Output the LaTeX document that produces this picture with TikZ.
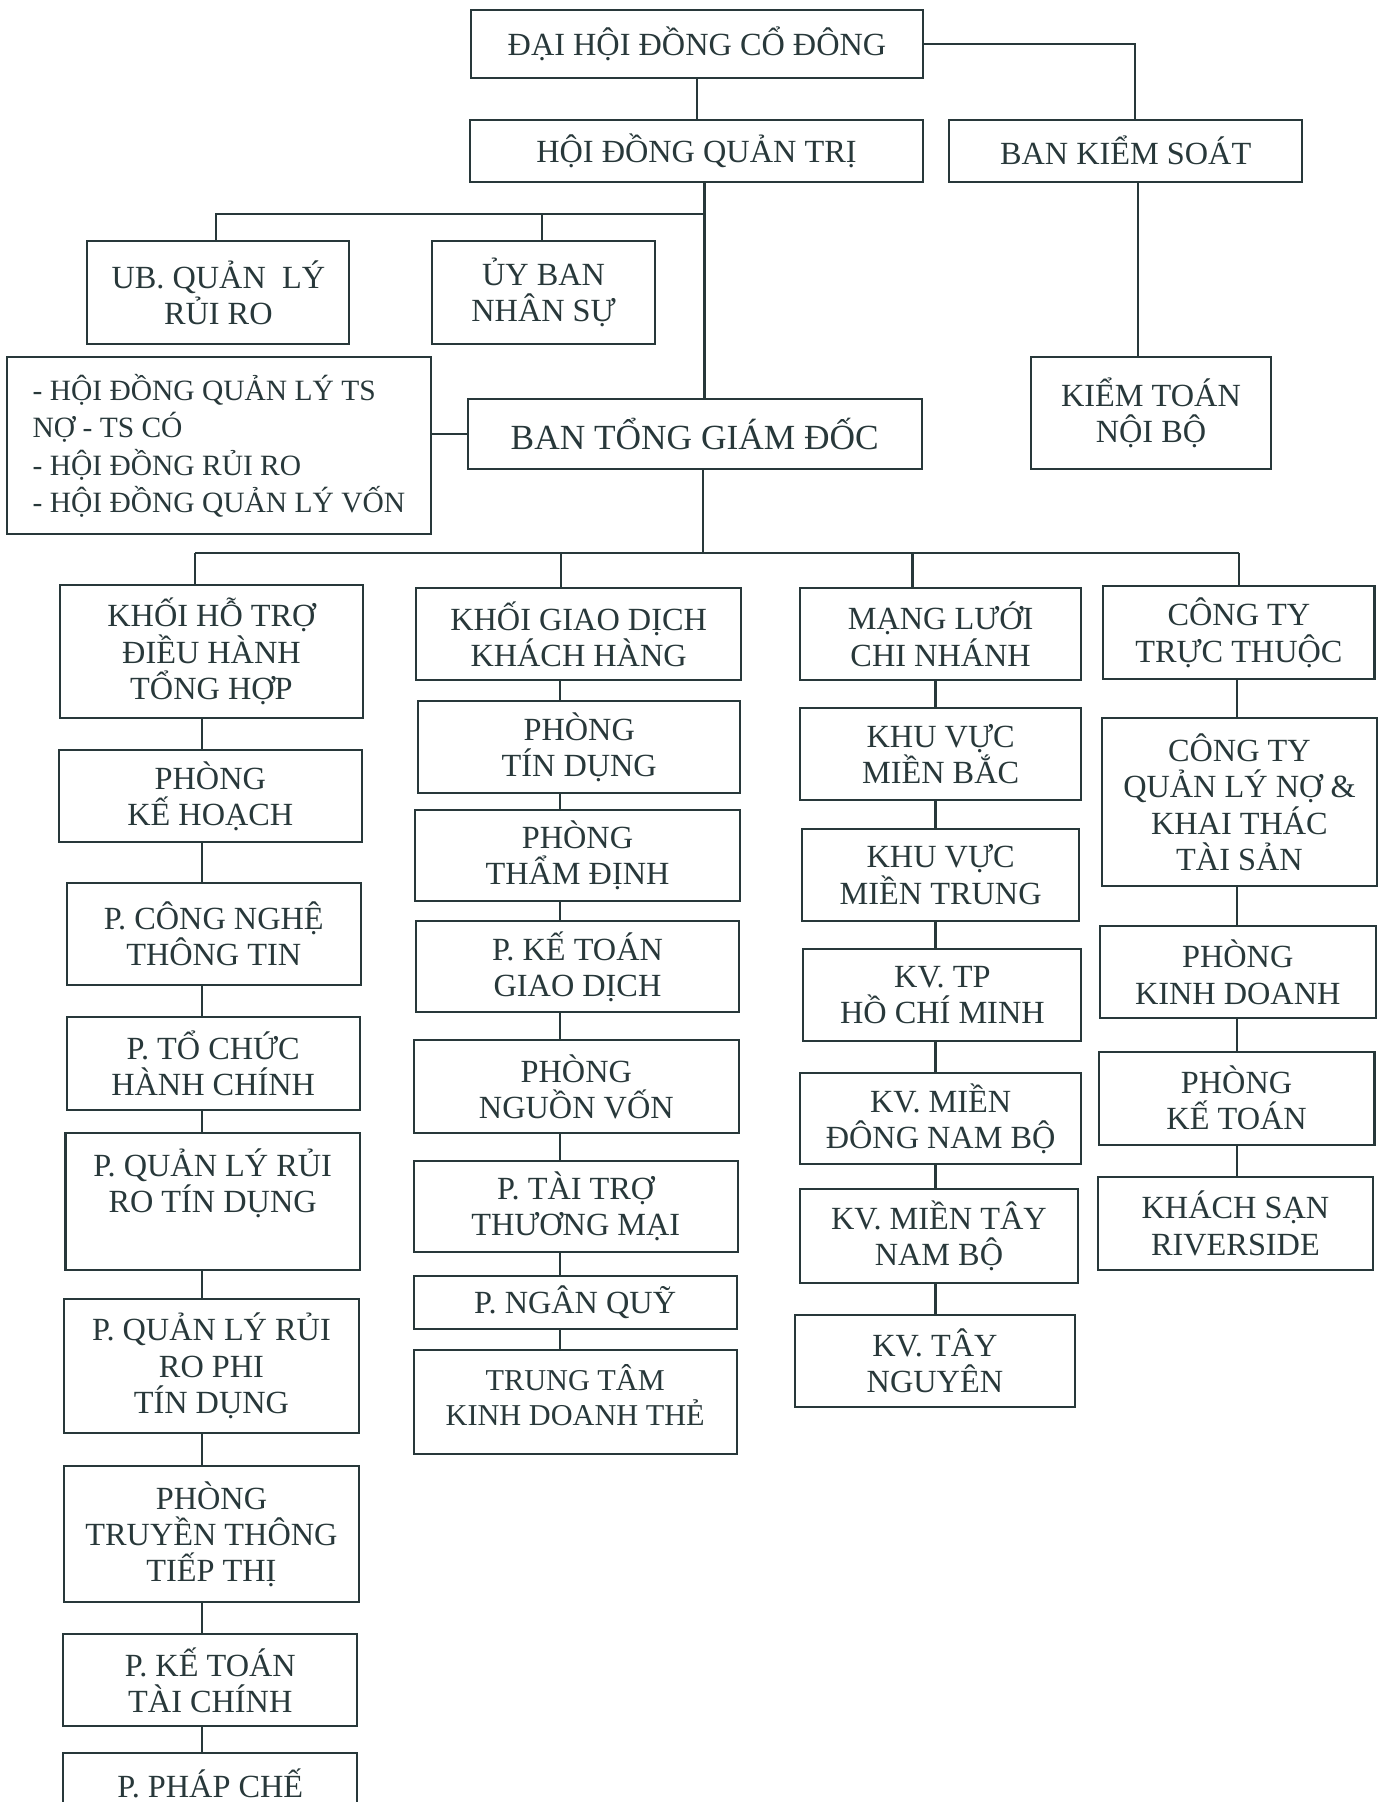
\documentclass[tikz,border=0pt]{standalone}
\usepackage{fontspec}
\setmainfont{Liberation Serif}
\definecolor{ink}{RGB}{40,56,58}
\begin{document}
\begin{tikzpicture}
[x=0.02cm, y=-0.02cm,
boxat/.style n args={4}{at={({(#1+#3)/2},{(#2+#4)/2})},
    minimum width={(#3-#1)*0.02cm}, minimum height={(#4-#2)*0.02cm}},
link/.style={draw=ink, line width=1pt}
]
\tikzset{every node/.style={shape=rectangle,draw=ink,line width=1pt,text=ink,
                            align=center,inner sep=0pt,
                            font=\fontsize{16}{18}\selectfont}}
\useasboundingbox (0,0) rectangle (1202,1568);
% top levels
\node[boxat={410}{9}{803}{68}] (dhdcd) {ĐẠI HỘI ĐỒNG CỔ ĐÔNG};
\node[boxat={409}{104}{803}{158}] (hdqt) {HỘI ĐỒNG QUẢN TRỊ};
\node[boxat={826}{104}{1133}{158}] (bks) {BAN KIỂM SOÁT};
\node[boxat={76}{210}{304}{299}] (ubql) {UB. QUẢN \ LÝ\\RỦI RO};
\node[boxat={376}{210}{570}{299}] (ubns) {ỦY BAN\\NHÂN SỰ};
\node[boxat={6}{311}{375}{465}, align=left, font=\fontsize{14.6}{18.6}\selectfont] (hdts)
    {- HỘI ĐỒNG QUẢN LÝ TS\\NỢ - TS CÓ\\- HỘI ĐỒNG RỦI RO\\- HỘI ĐỒNG QUẢN LÝ VỐN};
\node[boxat={407}{347}{802}{408}, font=\fontsize{17.5}{20}\selectfont] (btgd) {BAN TỔNG GIÁM ĐỐC};
\node[boxat={897}{311}{1106}{408}] (ktnb) {KIỂM TOÁN\\NỘI BỘ};
% khoi ho tro
\node[boxat={52}{509}{316}{625}] (k1) {KHỐI HỖ TRỢ\\ĐIỀU HÀNH\\TỔNG HỢP};
\node[boxat={51}{653}{315}{733}] (pkh) {PHÒNG\\KẾ HOẠCH};
\node[boxat={58}{768}{314}{857}] (pcntt) {P. CÔNG NGHỆ\\THÔNG TIN};
\node[boxat={58}{885}{313}{966}] (ptchc) {P. TỔ CHỨC\\HÀNH CHÍNH};
\node[boxat={57}{986}{313}{1105}] (pqlrtd) {P. QUẢN LÝ RỦI\\RO TÍN DỤNG\\[3pt]\mbox{}};
\node[boxat={56}{1130}{312}{1247}] (pqlrptd) {P. QUẢN LÝ RỦI\\RO PHI\\TÍN DỤNG};
\node[boxat={56}{1276}{312}{1394}] (pttt) {PHÒNG\\TRUYỀN THÔNG\\TIẾP THỊ};
\node[boxat={55}{1422}{311}{1502}] (pktc) {P. KẾ TOÁN\\TÀI CHÍNH};
\node[boxat={55}{1525}{311}{1578}] (ppc) {P. PHÁP CHẾ};
% khoi giao dich
\node[boxat={362}{512}{645}{592}] (k2) {KHỐI GIAO DỊCH\\KHÁCH HÀNG};
\node[boxat={364}{610}{644}{690}] (ptd) {PHÒNG\\TÍN DỤNG};
\node[boxat={361}{705}{644}{784}] (ptdinh) {PHÒNG\\THẨM ĐỊNH};
\node[boxat={362}{801}{643}{881}] (pktgd) {P. KẾ TOÁN\\GIAO DỊCH};
\node[boxat={360}{905}{643}{986}] (pnv) {PHÒNG\\NGUỒN VỐN};
\node[boxat={360}{1010}{642}{1089}] (pttm) {P. TÀI TRỢ\\THƯƠNG MẠI};
\node[boxat={360}{1110}{641}{1156}] (pnq) {P. NGÂN QUỸ};
\node[boxat={360}{1175}{641}{1265}, font=\fontsize{15}{17}\selectfont] (ttkdt)
    {TRUNG TÂM\\KINH DOANH THẺ\\[-10pt]\mbox{}};
% mang luoi
\node[boxat={696}{512}{941}{592}] (k3) {MẠNG LƯỚI\\CHI NHÁNH};
\node[boxat={696}{616}{941}{696}] (kvmb) {KHU VỰC\\MIỀN BẮC};
\node[boxat={698}{721}{939}{801}] (kvmt) {KHU VỰC\\MIỀN TRUNG};
\node[boxat={699}{826}{941}{906}] (kvhcm) {KV. TP\\HỒ CHÍ MINH};
\node[boxat={696}{934}{941}{1013}] (kvdnb) {KV. MIỀN\\ĐÔNG NAM BỘ};
\node[boxat={696}{1035}{938}{1116}] (kvtnb) {KV. MIỀN TÂY\\NAM BỘ};
\node[boxat={692}{1144}{935}{1224}] (kvtn) {KV. TÂY\\NGUYÊN};
% cong ty truc thuoc
\node[boxat={960}{510}{1196}{591}] (k4) {CÔNG TY\\TRỰC THUỘC};
\node[boxat={959}{625}{1198}{771}] (ctqln) {CÔNG TY\\QUẢN LÝ NỢ \&\\KHAI THÁC\\TÀI SẢN};
\node[boxat={957}{806}{1197}{886}] (pkd) {PHÒNG\\KINH DOANH};
\node[boxat={956}{915}{1196}{996}] (pkt) {PHÒNG\\KẾ TOÁN};
\node[boxat={955}{1024}{1195}{1105}] (ksr) {KHÁCH SẠN\\RIVERSIDE};
% connectors
\coordinate (hub) at (613,186);
\coordinate (bus) at (612,481);
\draw[link] (dhdcd.south) -- (dhdcd.south |- hdqt.north);
\draw[link] (dhdcd.east) -| (988,0 |- bks.north);
\draw[link] (hdqt.south -| hub) -- (btgd.north -| hub);
\draw[link] (hub) -| (188,0 |- ubql.north);
\draw[link] (472,0 |- hub) -- (472,0 |- ubns.north);
\draw[link] (hdts.east |- btgd.west) -- (btgd.west);
\draw[link] (990,0 |- bks.south) -- (990,0 |- ktnb.north);
\draw[link] (btgd.south -| bus) -- (bus);
\draw[link] (170,0 |- bus) -- (1078,0 |- bus);
\foreach \n/\x in {k1/170,k2/488,k3/794,k4/1078}
    \draw[link] (\x,0 |- bus) -- (\x,0 |- \n.north);
\foreach \a/\b in {k1/pkh,pkh/pcntt,pcntt/ptchc,ptchc/pqlrtd,pqlrtd/pqlrptd,
                   pqlrptd/pttt,pttt/pktc,pktc/ppc}
    \draw[link] (176,0 |- \a.south) -- (176,0 |- \b.north);
\foreach \a/\b in {k2/ptd,ptd/ptdinh,ptdinh/pktgd,pktgd/pnv,pnv/pttm,pttm/pnq,pnq/ttkdt}
    \draw[link] (487,0 |- \a.south) -- (487,0 |- \b.north);
\foreach \a/\b in {k3/kvmb,kvmb/kvmt,kvmt/kvhcm,kvhcm/kvdnb,kvdnb/kvtnb,kvtnb/kvtn}
    \draw[link] (814,0 |- \a.south) -- (814,0 |- \b.north);
\foreach \a/\b in {k4/ctqln,ctqln/pkd,pkd/pkt,pkt/ksr}
    \draw[link] (1076,0 |- \a.south) -- (1076,0 |- \b.north);
\end{tikzpicture}
\end{document}
